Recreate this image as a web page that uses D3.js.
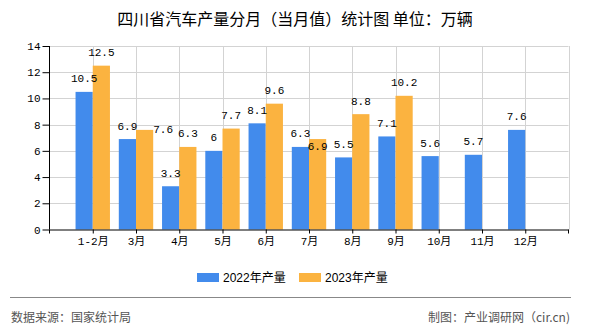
<!DOCTYPE html>
<html><head><meta charset="utf-8">
<script src="https://cdn.jsdelivr.net/npm/d3@7"></script>
<style>
html,body{margin:0;padding:0;background:#fff;}
svg{display:block;}
</style></head>
<body>
<svg id="chart" width="590" height="330"></svg>
<script>
const categories = ["1-2月","3月","4月","5月","6月","7月","8月","9月","10月","11月","12月"];
const seriesNames = ["2022年产量","2023年产量"];
const values2022 = [10.5, 6.9, 3.3, 6, 8.1, 6.3, 5.5, 7.1, 5.6, 5.7, 7.6];
const values2023 = [12.5, 7.6, 6.3, 7.7, 9.6, 6.9, 8.8, 10.2, null, null, null];
const yTicks = [0, 2, 4, 6, 8, 10, 12, 14];
const colors = ["#428bec", "#fbb340"];
const titleText = "四川省汽车产量分月（当月值）统计图 单位：万辆";
const sourceText = "数据来源：国家统计局";
const creditText = "制图：产业调研网（cir.cn)";

(function () {
const svg = d3.select("#chart");
const pL = 49.5, pR = 568.5, pT = 46, pB = 229.5;

const x = d3.scalePoint().domain(categories).range([pL, pR]).padding(1);
const xs = d3.scaleBand().domain(seriesNames).range([-17.2, 17.2]);
const y = d3.scaleLinear().domain([0, 14]).range([pB, pT]);

// grid
const g = svg.append("g");
g.selectAll("line.h").data(yTicks.filter(d => d > 0)).join("line")
  .attr("x1", pL).attr("x2", pR)
  .attr("y1", d => Math.round(y(d)) + 0.5).attr("y2", d => Math.round(y(d)) + 0.5)
  .attr("stroke", "#d3d3d3").attr("stroke-width", 1);
const vPos = [...categories.map(c => x(c)), pR];
g.selectAll("line.v").data(vPos).join("line")
  .attr("x1", d => Math.round(d) + 0.5).attr("x2", d => Math.round(d) + 0.5)
  .attr("y1", pT).attr("y2", pB)
  .attr("stroke", "#d3d3d3").attr("stroke-width", 1);

// bars
const barData = [];
categories.forEach((c, i) => [values2022[i], values2023[i]].forEach((v, si) => {
  if (v != null) barData.push({c, v, si, s: seriesNames[si]});
}));
svg.append("g").selectAll("rect").data(barData).join("rect")
  .attr("x", d => x(d.c) + xs(d.s))
  .attr("width", xs.bandwidth())
  .attr("y", d => y(d.v))
  .attr("height", d => pB - y(d.v))
  .attr("fill", d => colors[d.si]);

// axes
const xAxis = d3.axisBottom(x).tickSize(4).tickPadding(4);
const xg = svg.append("g").attr("transform", `translate(0,${pB})`).call(xAxis);
xg.select(".domain").attr("d", `M${pL},0.5H${pR}`).attr("stroke", "#000");
xg.selectAll(".tick line").attr("stroke", "#000");
[pL, pR].forEach(p => xg.append("line").attr("x1", p).attr("x2", p).attr("y1", 0).attr("y2", 4).attr("stroke", "#000"));
xg.selectAll("text").attr("font-family", "'Liberation Mono','Noto Sans CJK SC',monospace").attr("font-size", 11).attr("fill", "#000");

const yAxis = d3.axisLeft(y).tickValues(yTicks).tickSize(7).tickPadding(2).tickFormat(d3.format("d"));
const yg = svg.append("g").attr("transform", `translate(${pL},0)`).call(yAxis);
yg.select(".domain").attr("d", `M0,${pT}V${pB}`).attr("stroke", "#000");
yg.selectAll(".tick line").attr("stroke", "#000");
yg.selectAll("text").attr("font-family", "'Liberation Mono',monospace").attr("font-size", 11).attr("fill", "#000");

// value labels with simple overlap avoidance
const lblG = svg.append("g").attr("font-family", "'Liberation Mono',monospace").attr("font-size", 11).attr("fill", "#000");
const placed = [];
const labelH = 12;
function overlaps(b) {
  return placed.some(p => b.x0 < p.x1 && b.x1 > p.x0 && b.y0 < p.y1 && b.y1 > p.y0);
}
const ordered = barData.slice().sort((a, b) => a.si - b.si);
ordered.forEach(d => {
  const t = lblG.append("text").text(String(d.v)).attr("dominant-baseline", "central");
  const w = t.node().getComputedTextLength();
  const bx = x(d.c) + xs(d.s), bw = xs.bandwidth(), cx = bx + bw / 2, ty = y(d.v);
  const cands = [
    {cx: cx, cy: ty - 12.5},
    {cx: bx + bw + w / 2, cy: ty},
    {cx: cx, cy: ty + 8}
  ];
  let chosen = cands[0];
  for (const c of cands) {
    const b = {x0: c.cx - w / 2, x1: c.cx + w / 2, y0: c.cy - labelH / 2, y1: c.cy + labelH / 2};
    if (!overlaps(b)) { chosen = c; break; }
  }
  placed.push({x0: chosen.cx - w / 2, x1: chosen.cx + w / 2, y0: chosen.cy - labelH / 2, y1: chosen.cy + labelH / 2});
  t.attr("x", chosen.cx).attr("y", chosen.cy).attr("text-anchor", "middle");
});

// title
svg.append("text").attr("x", 295).attr("y", 18).attr("text-anchor", "middle").attr("dominant-baseline", "central")
  .attr("font-family", "'Noto Sans CJK SC',sans-serif").attr("font-size", 16).attr("fill", "#000").text(titleText);

// legend
const lg = svg.append("g");
const legX = [197, 299];
seriesNames.forEach((s, i) => {
  lg.append("rect").attr("x", legX[i]).attr("y", 273).attr("width", 22).attr("height", 9).attr("fill", colors[i]);
  lg.append("text").attr("x", legX[i] + 26).attr("y", 277.5).attr("dominant-baseline", "central")
    .attr("font-family", "'Liberation Sans','Noto Sans CJK SC',sans-serif").attr("font-size", 12).attr("fill", "#000").text(s);
});

// footer
svg.append("line").attr("x1", 10).attr("x2", 571).attr("y1", 297.5).attr("y2", 297.5).attr("stroke", "#888").attr("stroke-width", 1.2);
svg.append("text").attr("x", 11).attr("y", 316).attr("dominant-baseline", "central")
  .attr("font-family", "'Noto Sans CJK SC',sans-serif").attr("font-size", 12).attr("fill", "#555").text(sourceText);
svg.append("text").attr("x", 570).attr("y", 316).attr("text-anchor", "end").attr("dominant-baseline", "central")
  .attr("font-family", "'Noto Sans CJK SC',sans-serif").attr("font-size", 12).attr("fill", "#555").text(creditText);
})();
</script>
</body></html>
